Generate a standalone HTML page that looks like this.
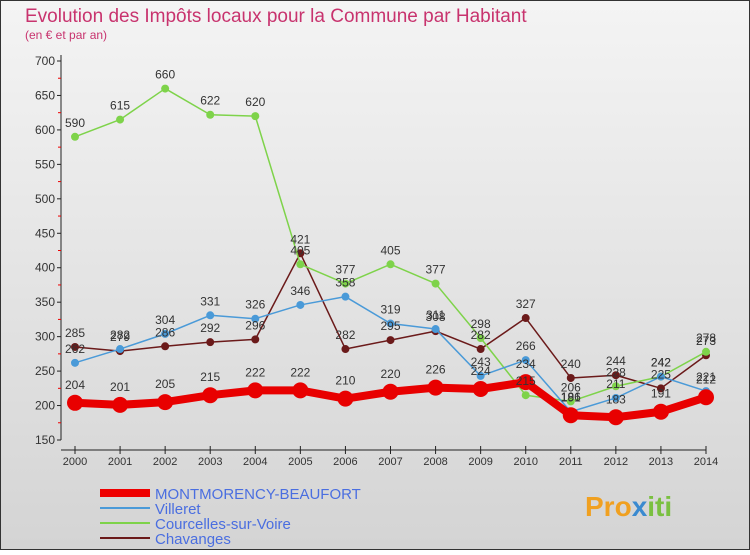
<!DOCTYPE html>
<html><head><meta charset="utf-8"><style>
html,body{margin:0;padding:0}
body{width:750px;height:550px;overflow:hidden;font-family:"Liberation Sans",sans-serif}
</style></head><body>
<svg id="c" width="750" height="550" xmlns="http://www.w3.org/2000/svg" font-family="Liberation Sans, sans-serif">
<defs><linearGradient id="bg" x1="0" y1="0" x2="0" y2="1"><stop offset="0" stop-color="#f4f4f4"/><stop offset="1" stop-color="#d4d4d4"/></linearGradient></defs>
<rect x="0.5" y="0.5" width="749" height="549" fill="url(#bg)" stroke="#333"/>
<text x="25" y="22" font-size="19" fill="#c8336e">Evolution des Impôts locaux pour la Commune par Habitant</text>
<text x="25" y="39" font-size="12" fill="#c8336e">(en € et par an)</text>
<g id="axes"></g><g id="series"></g><g id="labels"></g>
<g>
<line x1="100" y1="493" x2="150" y2="493" stroke="#e00" stroke-width="8"/>
<text x="155" y="499" font-size="15" fill="#4a6ee0">MONTMORENCY-BEAUFORT</text>
<line x1="100" y1="508" x2="150" y2="508" stroke="#4a9ad8" stroke-width="2"/>
<text x="155" y="514" font-size="15" fill="#4a6ee0">Villeret</text>
<line x1="100" y1="523" x2="150" y2="523" stroke="#7ed34a" stroke-width="2"/>
<text x="155" y="529" font-size="15" fill="#4a6ee0">Courcelles-sur-Voire</text>
<line x1="100" y1="538" x2="150" y2="538" stroke="#6b1a1a" stroke-width="2"/>
<text x="155" y="544" font-size="15" fill="#4a6ee0">Chavanges</text>
</g>
<text x="585" y="516" font-size="28" font-weight="bold" fill="#f0a020">Pro<tspan fill="#3a8ad0">x</tspan><tspan fill="#7ac040">iti</tspan></text>
</svg>
<script>
const years=[2000,2001,2002,2003,2004,2005,2006,2007,2008,2009,2010,2011,2012,2013,2014];
const yTicks=[150,200,250,300,350,400,450,500,550,600,650,700];
const montmorency=[204,201,205,215,222,222,210,220,226,224,234,186,183,191,212];
const villeret=[262,282,304,331,326,346,358,319,311,243,266,191,211,242,221];
const courcelles=[590,615,660,622,620,405,377,405,377,298,215,206,228,242,278];
const chavanges=[285,279,286,292,296,421,282,295,308,282,327,240,244,225,273];
const NS="http://www.w3.org/2000/svg";
const x=i=>75+i*(706-75)/(years.length-1);
const y=v=>440-(v-150)*(440-61)/550;
function mk(t,a,p){const e=document.createElementNS(NS,t);for(const k in a)e.setAttribute(k,a[k]);p.appendChild(e);return e;}
const ax=document.getElementById('axes');
const a1=mk('line',{x1:61,y1:55,x2:61,y2:440,stroke:'#222'},ax);


const a2=mk('line',{x1:61,y1:450,x2:706,y2:450,stroke:'#222'},ax);


yTicks.forEach(v=>{
 mk('line',{x1:57,y1:y(v),x2:61,y2:y(v),stroke:'#222'},ax);
 if(v<700)mk('line',{x1:58,y1:y(v+25),x2:61,y2:y(v+25),stroke:'#e00'},ax);
 const t=mk('text',{x:55,y:y(v)+4,'font-size':12,fill:'#333','text-anchor':'end'},ax);t.textContent=v;
 
 
});
years.forEach((yr,i)=>{
 mk('line',{x1:x(i),y1:446,x2:x(i),y2:454,stroke:'#222'},ax);
 const t=mk('text',{x:x(i),y:465,'font-size':11,fill:'#333','text-anchor':'middle'},ax);t.textContent=yr;
 
 
});
const sg=document.getElementById('series'),lg=document.getElementById('labels');
function draw(data,color,w,r,name){
 const g=mk('g',{},sg);
 
 
 mk('polyline',{points:data.map((v,i)=>x(i)+','+y(v)).join(' '),fill:'none',stroke:color,'stroke-width':w,'stroke-linejoin':'round'},g);
 data.forEach((v,i)=>{
  const c=mk('circle',{cx:x(i),cy:y(v),r:r,fill:color},g);
  
  
  const t=mk('text',{x:x(i),y:y(v)-r-6,'font-size':12,fill:'#333','text-anchor':'middle'},lg);t.textContent=v;
  
  
 });
}
draw(chavanges,'#6b1a1a',1.5,4,'series-chavanges');
draw(courcelles,'#7ed34a',1.5,4,'series-courcelles');
draw(villeret,'#4a9ad8',1.5,4,'series-villeret');
draw(montmorency,'#e80000',8,8,'series-montmorency');
</script>
</body></html>
